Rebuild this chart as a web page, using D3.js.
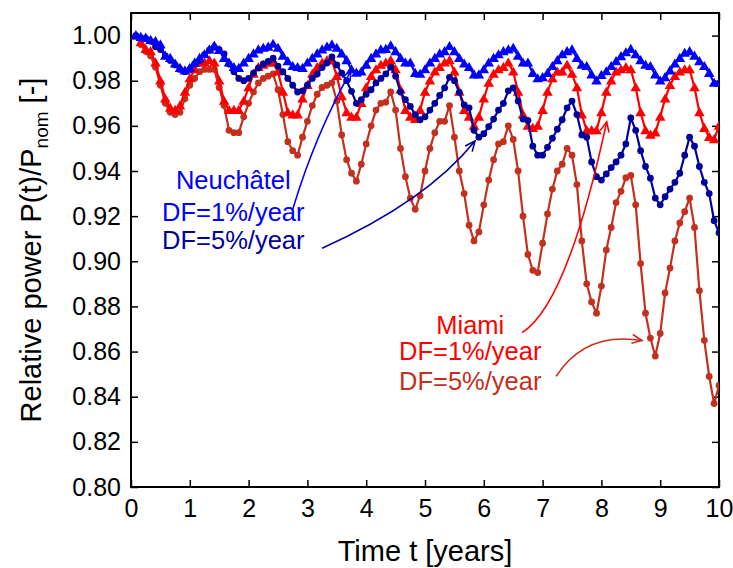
<!DOCTYPE html>
<html>
<head>
<meta charset="utf-8">
<script src="https://cdn.jsdelivr.net/npm/d3@7"></script>
<style>
  html, body { margin: 0; padding: 0; background: #fff; }
  svg { display: block; font-family: Arial, "Liberation Sans", sans-serif; }
</style>
</head>
<body>
<svg id="chart" width="733" height="568"></svg>
<script>
// Monthly samples, t = month / 12 years
const months = d3.range(1, 121);

const xTicks = [0, 1, 2, 3, 4, 5, 6, 7, 8, 9, 10];
const yTicks = [0.80, 0.82, 0.84, 0.86, 0.88, 0.90, 0.92, 0.94, 0.96, 0.98, 1.00];

// Neuchâtel, DF = 1 %/year
const neuchatel1 = [
  1.000, 0.9993, 0.999, 0.998, 0.9975, 0.996, 0.991, 0.990, 0.9875, 0.9856, 0.9845, 0.9856,
  0.988, 0.990, 0.9916, 0.9938, 0.9955, 0.9935, 0.990, 0.988, 0.986, 0.9856, 0.988, 0.990,
  0.992, 0.9938, 0.9945, 0.995, 0.9963, 0.9945, 0.991, 0.9886, 0.9864, 0.986, 0.9856, 0.988,
  0.990, 0.992, 0.9938, 0.995, 0.996, 0.9945, 0.992, 0.989, 0.985, 0.9835, 0.984, 0.987,
  0.990, 0.992, 0.9938, 0.994, 0.9956, 0.993, 0.990, 0.988, 0.988, 0.9834, 0.983, 0.985,
  0.988, 0.990, 0.992, 0.993, 0.9953, 0.993, 0.990, 0.9875, 0.986, 0.9827, 0.9827, 0.985,
  0.988, 0.990, 0.9916, 0.993, 0.9938, 0.9945, 0.991, 0.988, 0.988, 0.9834, 0.981, 0.9815,
  0.9834, 0.9864, 0.989, 0.9916, 0.993, 0.9938, 0.990, 0.987, 0.9864, 0.9827, 0.980, 0.9825,
  0.9841, 0.9864, 0.9886, 0.9908, 0.9925, 0.994, 0.9916, 0.989, 0.987, 0.9864, 0.9827, 0.980,
  0.9815, 0.9845, 0.9875, 0.990, 0.9923, 0.993, 0.991, 0.9886, 0.9864, 0.9834, 0.979, 0.979
];

// Neuchâtel, DF = 5 %/year
const neuchatel5 = [
  1.000, 0.999, 0.9987, 0.9975, 0.995, 0.9938, 0.991, 0.989, 0.987, 0.985, 0.984, 0.985,
  0.9874, 0.989, 0.9916, 0.9935, 0.9948, 0.9938, 0.9919, 0.9874, 0.984, 0.981, 0.980, 0.981,
  0.9834, 0.9856, 0.9874, 0.9886, 0.990, 0.9865, 0.984, 0.981, 0.978, 0.975, 0.9755, 0.978,
  0.981, 0.983, 0.9858, 0.9879, 0.9905, 0.987, 0.9834, 0.980, 0.9753, 0.970, 0.9716, 0.974,
  0.976, 0.979, 0.981, 0.983, 0.986, 0.982, 0.975, 0.9716, 0.9686, 0.965, 0.9627, 0.964,
  0.967, 0.970, 0.9735, 0.9768, 0.9815, 0.980, 0.9748, 0.9693, 0.968, 0.958, 0.955, 0.9565,
  0.9597, 0.963, 0.967, 0.970, 0.9755, 0.9768, 0.971, 0.963, 0.9624, 0.951, 0.947, 0.947,
  0.9505, 0.9545, 0.9585, 0.9627, 0.968, 0.971, 0.965, 0.956, 0.955, 0.944, 0.9375, 0.936,
  0.9387, 0.9415, 0.944, 0.947, 0.952, 0.9635, 0.958, 0.949, 0.942, 0.9368, 0.928, 0.925,
  0.9286, 0.932, 0.935, 0.939, 0.947, 0.955, 0.951, 0.942, 0.935, 0.930, 0.918, 0.9126
];

// Miami, DF = 1 %/year
const miami1 = [
  1.000, 0.997, 0.994, 0.993, 0.988, 0.980, 0.972, 0.968, 0.967, 0.969, 0.975, 0.981,
  0.985, 0.988, 0.988, 0.989, 0.988, 0.980, 0.971, 0.967, 0.967, 0.967, 0.971, 0.977,
  0.983, 0.986, 0.987, 0.988, 0.988, 0.984, 0.975, 0.966, 0.965, 0.965, 0.972, 0.978,
  0.983, 0.986, 0.988, 0.989, 0.989, 0.982, 0.973, 0.966, 0.964, 0.964, 0.970, 0.977,
  0.982, 0.985, 0.987, 0.988, 0.989, 0.985, 0.976, 0.967, 0.964, 0.963, 0.967, 0.975,
  0.980, 0.984, 0.986, 0.988, 0.989, 0.984, 0.975, 0.967, 0.964, 0.960, 0.964, 0.972,
  0.979, 0.983, 0.985, 0.986, 0.988, 0.984, 0.975, 0.965, 0.960, 0.959, 0.960, 0.967,
  0.975, 0.981, 0.984, 0.984, 0.987, 0.983, 0.977, 0.965, 0.958, 0.958, 0.958, 0.966,
  0.975, 0.980, 0.984, 0.985, 0.986, 0.985, 0.977, 0.966, 0.958, 0.956, 0.957, 0.964,
  0.972, 0.978, 0.982, 0.984, 0.985, 0.985, 0.977, 0.966, 0.959, 0.955, 0.954, 0.960
];

// Miami, DF = 5 %/year
const miami5 = [
  1.000, 0.996, 0.993, 0.991, 0.986, 0.978, 0.970, 0.966, 0.965, 0.966, 0.972, 0.978,
  0.981, 0.984, 0.985, 0.985, 0.985, 0.977, 0.969, 0.958, 0.957, 0.957, 0.964, 0.970,
  0.975, 0.979, 0.981, 0.982, 0.983, 0.976, 0.965, 0.953, 0.949, 0.947, 0.955, 0.962,
  0.969, 0.974, 0.977, 0.978, 0.979, 0.971, 0.956, 0.945, 0.939, 0.9355, 0.943, 0.952,
  0.960, 0.967, 0.970, 0.9705, 0.975, 0.967, 0.950, 0.9375, 0.928, 0.923, 0.929, 0.940,
  0.950, 0.957, 0.962, 0.962, 0.969, 0.955, 0.940, 0.930, 0.916, 0.909, 0.913, 0.925,
  0.936, 0.945, 0.952, 0.953, 0.960, 0.954, 0.940, 0.920, 0.903, 0.896, 0.895, 0.908,
  0.921, 0.932, 0.940, 0.943, 0.950, 0.947, 0.934, 0.909, 0.890, 0.882, 0.877, 0.889,
  0.905, 0.915, 0.926, 0.931, 0.937, 0.938, 0.925, 0.899, 0.877, 0.866, 0.858, 0.868,
  0.886, 0.897, 0.909, 0.917, 0.922, 0.928, 0.915, 0.887, 0.865, 0.849, 0.837, 0.845
];

const series = [
  { name: "Miami 5",     values: miami5,     color: "#c3301d", marker: "circle" },
  { name: "Miami 1",     values: miami1,     color: "#ff0000", marker: "triangle" },
  { name: "Neuchatel 5", values: neuchatel5, color: "#00009c", marker: "circle" },
  { name: "Neuchatel 1", values: neuchatel1, color: "#0000ff", marker: "triangle" }
];

const W = 733, H = 568;
const margin = { top: 13, right: 14, bottom: 81, left: 131 };
const iw = W - margin.left - margin.right;
const ih = H - margin.top - margin.bottom;

const svg = d3.select("#chart");
const g = svg.append("g").attr("transform", `translate(${margin.left},${margin.top})`);

const x = d3.scaleLinear().domain([0, 10]).range([0, iw]);
const y = d3.scaleLinear().domain([0.80, 1.01]).range([ih, 0]);

// clip region for the data
svg.append("defs").append("clipPath").attr("id", "plotClip")
  .append("rect").attr("x", -6).attr("y", -6).attr("width", iw + 6).attr("height", ih + 12);

// arrowheads (open V)
const defs = svg.select("defs");
[["arrBlue", "#0000ff"], ["arrNavy", "#00009c"], ["arrRed", "#ff0000"], ["arrDark", "#c3301d"]]
  .forEach(([id, c]) => {
    defs.append("marker").attr("id", id)
      .attr("viewBox", "-12 -6 14 12").attr("refX", 0).attr("refY", 0)
      .attr("markerWidth", 14).attr("markerHeight", 12)
      .attr("markerUnits", "userSpaceOnUse").attr("orient", "auto")
      .append("path").attr("d", "M-10,-4.5 L0,0 L-10,4.5")
      .attr("fill", "none").attr("stroke", c).attr("stroke-width", 1.6);
  });

// axes: bottom/left with labels, top/right ticks only, ticks inward
const tickLen = 7;
const axisFont = 25;

const xAxis = g.append("g").attr("transform", `translate(0,${ih})`)
  .call(d3.axisBottom(x).tickValues(xTicks).tickFormat(d3.format("d")).tickSizeInner(-tickLen).tickSizeOuter(0).tickPadding(12));
const yAxis = g.append("g")
  .call(d3.axisLeft(y).tickValues(yTicks).tickFormat(d3.format(".2f")).tickSizeInner(-tickLen).tickSizeOuter(0).tickPadding(10));
const xTop = g.append("g")
  .call(d3.axisTop(x).tickValues(xTicks).tickFormat("").tickSizeInner(-tickLen).tickSizeOuter(0));
const yRight = g.append("g").attr("transform", `translate(${iw},0)`)
  .call(d3.axisRight(y).tickValues(yTicks).tickFormat("").tickSizeInner(-tickLen).tickSizeOuter(0));

[xAxis, yAxis, xTop, yRight].forEach(a => {
  a.select(".domain").remove();
  a.selectAll("line").attr("stroke", "#000").attr("stroke-width", 1.5);
  a.selectAll("text").attr("fill", "#000").style("font-size", axisFont + "px")
    .style("font-family", "Arial, 'Liberation Sans', sans-serif");
});
xAxis.selectAll("text").attr("dy", "0.71em");

// frame
g.append("rect").attr("x", 0).attr("y", 0).attr("width", iw).attr("height", ih)
  .attr("fill", "none").attr("stroke", "#000").attr("stroke-width", 2);

// series
const line = d3.line().x((d, i) => x(months[i] / 12)).y(d => y(d));
const plot = g.append("g").attr("clip-path", "url(#plotClip)");
const tri = d3.symbol().type(d3.symbolTriangle).size(48);

series.forEach(s => {
  const sg = plot.append("g");
  sg.append("path").datum(s.values).attr("d", line)
    .attr("fill", "none").attr("stroke", s.color).attr("stroke-width", 2.2);
  if (s.marker === "circle") {
    sg.selectAll("circle").data(s.values).join("circle")
      .attr("cx", (d, i) => x(months[i] / 12)).attr("cy", d => y(d))
      .attr("r", 3.4).attr("fill", s.color);
  } else {
    sg.selectAll("path.m").data(s.values).join("path").attr("class", "m")
      .attr("d", tri)
      .attr("transform", (d, i) => `translate(${x(months[i] / 12)},${y(d) + 0.8})`)
      .attr("fill", s.color);
  }
});

// annotations
const annFont = 25.5;
function label(tx, ty, text, color) {
  g.append("text").attr("x", x(tx)).attr("y", y(ty)).attr("text-anchor", "middle")
    .attr("fill", color).style("font-size", annFont + "px").text(text);
}
label(1.74, 0.9320, "Neuchâtel", "#0000ff");
label(1.74, 0.9178, "DF=1%/year", "#0000ff");
label(1.74, 0.9053, "DF=5%/year", "#00009c");
label(5.77, 0.8676, "Miami", "#ff0000");
label(5.77, 0.8564, "DF=1%/year", "#ff0000");
label(5.77, 0.8431, "DF=5%/year", "#c3301d");

function arrow(p0, c, p1, color, id) {
  const path = d3.path();
  path.moveTo(x(p0[0]), y(p0[1]));
  path.quadraticCurveTo(x(c[0]), y(c[1]), x(p1[0]), y(p1[1]));
  g.append("path").attr("d", path.toString()).attr("fill", "none")
    .attr("stroke", color).attr("stroke-width", 1.6).attr("marker-end", `url(#${id})`);
}
arrow([2.75, 0.9230], [3.13, 0.9560], [3.74, 0.9844], "#0000ff", "arrBlue");
arrow([3.25, 0.9058], [5.03, 0.9267], [5.85, 0.9533], "#00009c", "arrNavy");
arrow([6.65, 0.8684], [7.42, 0.8808], [8.09, 0.9618], "#ff0000", "arrRed");
arrow([7.23, 0.8490], [7.72, 0.8690], [8.69, 0.8649], "#c3301d", "arrDark");

// axis titles
svg.append("text").attr("x", margin.left + iw / 2).attr("y", 561)
  .attr("text-anchor", "middle").style("font-size", "29px").attr("fill", "#000")
  .text("Time t [years]");

const yt = svg.append("text").attr("transform", `translate(41,${margin.top + ih / 2}) rotate(-90)`)
  .attr("text-anchor", "middle").style("font-size", "29px").attr("fill", "#000");
yt.append("tspan").text("Relative power P(t)/P");
yt.append("tspan").attr("dy", 7).style("font-size", "19px").text("nom");
yt.append("tspan").attr("dy", -7).text(" [-]");
</script>
</body>
</html>
